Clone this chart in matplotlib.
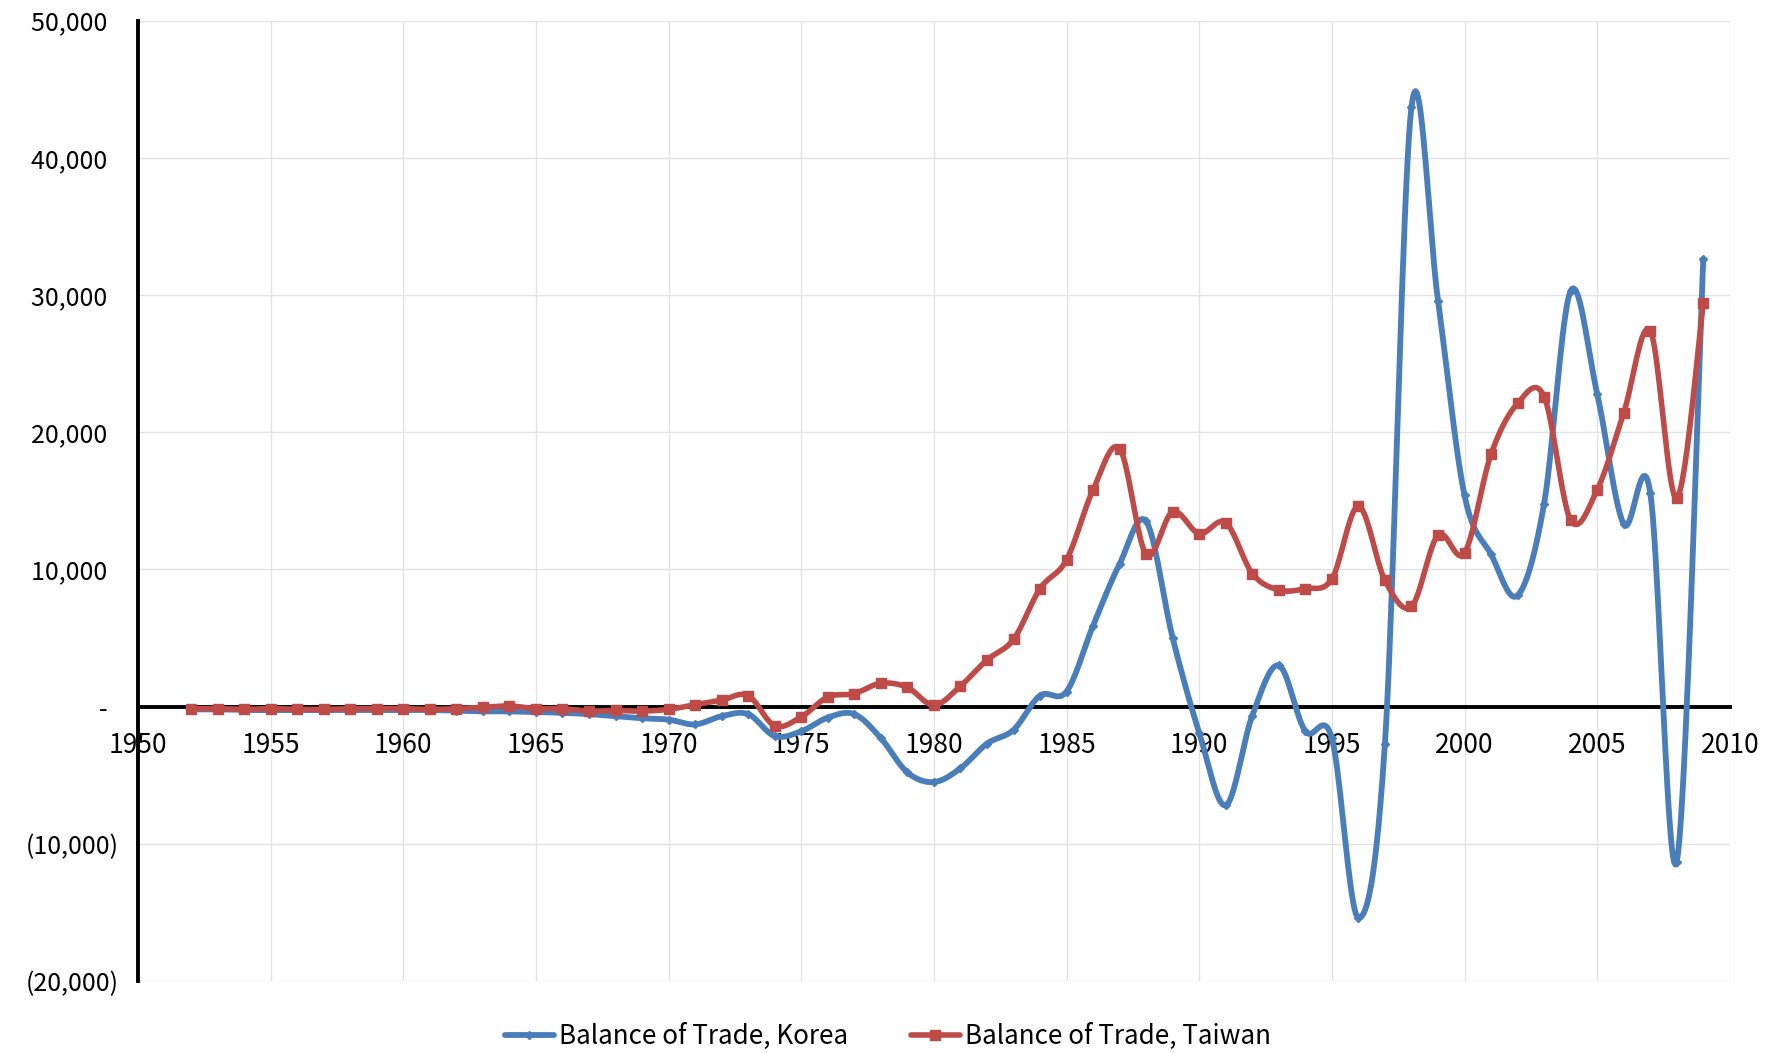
import numpy as np
import matplotlib
matplotlib.use("Agg")
from matplotlib import pyplot as plt
from matplotlib.ticker import FixedLocator

plt.rcParams['font.family'] = ['Noto Sans CJK KR', 'DejaVu Sans']

years = list(range(1952, 2010))

korea = [-200, -200, -250, -250, -250, -250, -250, -250, -250, -250,
         -300, -350, -350, -400, -450, -550, -700, -850, -950, -1300,
         -700, -550, -2150, -1800, -800, -550, -2300, -4800, -5500, -4500,
         -2700, -1700, 800, 1100, 5900, 10400, 13500, 5000, -1900, -7200,
         -650, 3000, -1800, -2300, -15400, -2700, 43700, 29600, 15400, 11100,
         8100, 14800, 30300, 22800, 13300, 15600, -11300, 32600]

taiwan = [-150, -150, -200, -150, -200, -200, -150, -150, -150, -200,
          -150, -50, 50, -150, -150, -330, -280, -330, -200, 140,
          470, 800, -1400, -750, 700, 950, 1700, 1400, 100, 1500,
          3400, 4900, 8600, 10700, 15800, 18800, 11100, 14200, 12600, 13400,
          9700, 8500, 8600, 9300, 14600, 9200, 7300, 12500, 11200, 18400,
          22100, 22600, 13600, 15800, 21400, 27400, 15200, 29400]

y_ticks = [-20000, -10000, 0, 10000, 20000, 30000, 40000, 50000]
y_labels = ['(20,000)', '(10,000)', '-  ', '10,000  ', '20,000  ', '30,000  ', '40,000  ', '50,000  ']
x_ticks = [1950, 1955, 1960, 1965, 1970, 1975, 1980, 1985, 1990, 1995, 2000, 2005, 2010]

BLUE = '#4A7EBB'
RED = '#BE4B48'


def smooth(x, y, n=20):
    # bezier smoothing like the spreadsheet "smoothed line" option
    pts = np.column_stack([x, y]).astype(float)
    p = np.vstack([pts[0], pts, pts[-1]])
    out = []
    t = np.linspace(0, 1, n, endpoint=False)[:, None]
    for i in range(1, len(p) - 2):
        p0, p1, p2, p3 = p[i - 1], p[i], p[i + 1], p[i + 2]
        c1 = p1 + (p2 - p0) / 6
        c2 = p2 - (p3 - p1) / 6
        seg = (1 - t) ** 3 * p1 + 3 * (1 - t) ** 2 * t * c1 + 3 * (1 - t) * t ** 2 * c2 + t ** 3 * p2
        out.append(seg)
    out.append(pts[-1:])
    curve = np.vstack(out)
    marks = list(range(0, len(curve), n))
    return curve[:, 0], curve[:, 1], marks


fig = plt.figure(figsize=(17.76, 10.53), dpi=100)
ax = fig.add_axes([0.0777, 0.0684, 0.8963, 0.912])

kx, ky, km = smooth(years, korea)
tx, ty, tm = smooth(years, taiwan)

ax.plot(kx, ky, color=BLUE, lw=4.2, marker='D', markersize=4.5, markevery=km,
        label='Balance of Trade, Korea', solid_capstyle='round', zorder=3)
ax.plot(tx, ty, color=RED, lw=4.0, marker='s', markersize=7, markevery=tm,
        label='Balance of Trade, Taiwan', solid_capstyle='round', zorder=4)

ax.set_xlim(1950, 2010)
ax.set_ylim(-20000, 50000)
ax.xaxis.set_major_locator(FixedLocator(x_ticks))
ax.set_xticklabels([str(v) for v in x_ticks])
ax.set_yticks(y_ticks)
ax.set_yticklabels(y_labels)

ax.grid(True, color='#E3E3E3', lw=1.0, zorder=0)
ax.set_axisbelow(True)

for s in ['top', 'right']:
    ax.spines[s].set_visible(False)
ax.spines['left'].set_linewidth(2.8)
ax.spines['left'].set_color('black')
ax.spines['bottom'].set_position(('data', 0))
ax.spines['bottom'].set_linewidth(2.8)
ax.spines['bottom'].set_zorder(2)

ax.tick_params(axis='both', length=0, colors='black')
ax.tick_params(axis='x', pad=18, labelsize=19)
ax.tick_params(axis='y', pad=14, labelsize=18)

fig.legend(loc='center', bbox_to_anchor=(0.5, 0.016), ncol=2, frameon=False,
           fontsize=18.7, handlelength=1.9, columnspacing=2.4, handletextpad=0.2)

fig.savefig('out.png', dpi=100)
